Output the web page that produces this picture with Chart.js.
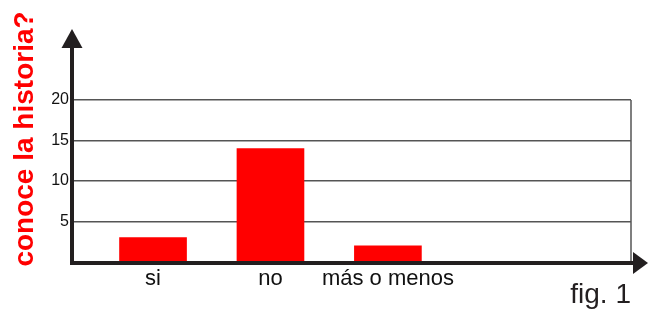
<!DOCTYPE html>
<html>
<head>
<meta charset="utf-8">
<script src="https://cdn.jsdelivr.net/npm/chart.js@4/dist/chart.umd.min.js"></script>
<style>
  html, body { margin: 0; padding: 0; background: #fff; }
  canvas { display: block; }
</style>
</head>
<body>
<canvas id="c" width="648" height="310"></canvas>
<script>
// ---- data ----
const categories = ['si', 'no', 'más o menos'];
const positions = [1, 2, 3];
const counts = [3, 14, 2];
const yTicks = [5, 10, 15, 20];
const yTitle = 'conoce la historia?';
const figLabel = 'fig. 1';

const FONT = '"Liberation Sans", Arial, Helvetica, sans-serif';
const AXIS_COLOR = '#231f20';

const decorPlugin = {
  id: 'decor',
  afterDatasetsDraw(chart) {
    const ctx = chart.ctx;
    const a = chart.chartArea;
    ctx.save();
    // right border of grid box
    ctx.strokeStyle = '#555';
    ctx.lineWidth = 1.5;
    ctx.beginPath();
    ctx.moveTo(a.right, a.top);
    ctx.lineTo(a.right, a.bottom);
    ctx.stroke();

    // y axis with arrow
    ctx.fillStyle = AXIS_COLOR;
    ctx.strokeStyle = AXIS_COLOR;
    ctx.lineWidth = 4;
    ctx.beginPath();
    ctx.moveTo(a.left, a.bottom + 3);
    ctx.lineTo(a.left, a.top - 52);
    ctx.stroke();
    ctx.beginPath();
    ctx.moveTo(a.left - 10.5, a.top - 52);
    ctx.lineTo(a.left + 10.5, a.top - 52);
    ctx.lineTo(a.left, a.top - 71);
    ctx.closePath();
    ctx.fill();

    // x axis with arrow
    ctx.beginPath();
    ctx.moveTo(a.left - 2, a.bottom + 1);
    ctx.lineTo(a.right + 3, a.bottom + 1);
    ctx.stroke();
    ctx.beginPath();
    ctx.moveTo(a.right + 2, a.bottom + 1 - 11);
    ctx.lineTo(a.right + 2, a.bottom + 1 + 11);
    ctx.lineTo(a.right + 17, a.bottom + 1);
    ctx.closePath();
    ctx.fill();

    // rotated y title
    ctx.save();
    ctx.translate(a.left - 39, (a.top + a.bottom) / 2 - 42);
    ctx.rotate(-Math.PI / 2);
    ctx.fillStyle = '#ff0000';
    ctx.font = 'bold 28px ' + FONT;
    ctx.textAlign = 'center';
    ctx.textBaseline = 'alphabetic';
    ctx.fillText(yTitle, 0, 0);
    ctx.restore();

    // figure label
    ctx.fillStyle = '#231f20';
    ctx.font = '28px ' + FONT;
    ctx.textAlign = 'right';
    ctx.textBaseline = 'alphabetic';
    ctx.fillText(figLabel, a.right, a.bottom + 41);
    ctx.restore();
  }
};

new Chart(document.getElementById('c'), {
  type: 'bar',
  data: {
    datasets: [{
      data: positions.map((p, i) => ({ x: p, y: counts[i] })),
      backgroundColor: '#ff0000',
      borderWidth: 0,
      barThickness: 67
    }]
  },
  options: {
    responsive: false,
    devicePixelRatio: 1,
    animation: false,
    layout: { padding: { left: 0, right: 17, top: 100, bottom: 0 } },
    plugins: { legend: { display: false }, tooltip: { enabled: false } },
    scales: {
      x: {
        type: 'linear',
        offset: false,
        min: 0.31,
        max: 5.07,
        grid: { display: false, drawTicks: false, offset: false },
        border: { display: false },
        afterBuildTicks: (scale) => { scale.ticks = positions.map(v => ({ value: v })); },
        afterFit: (scale) => { scale.height = 48; },
        ticks: {
          autoSkip: false,
          maxRotation: 0,
          padding: 4,
          color: '#111',
          font: { family: FONT, size: 22 },
          callback: (v) => { const i = positions.indexOf(v); return i >= 0 ? categories[i] : ''; }
        }
      },
      y: {
        min: 0,
        max: 20,
        grid: { color: '#555', lineWidth: 1.5, drawTicks: false },
        border: { display: false },
        afterBuildTicks: (scale) => { scale.ticks = [0].concat(yTicks).map(v => ({ value: v })); },
        afterFit: (scale) => { scale.width = 72; },
        ticks: {
          padding: 3,
          color: '#111',
          font: { family: FONT, size: 16 },
          callback: (v) => yTicks.includes(v) ? String(v) : ''
        }
      }
    }
  },
  plugins: [decorPlugin]
});
</script>
</body>
</html>
